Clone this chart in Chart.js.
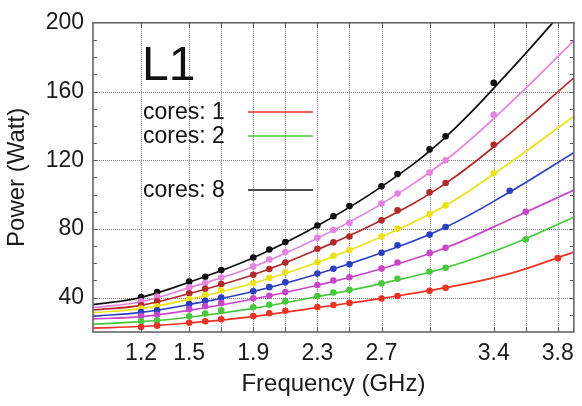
<!DOCTYPE html>
<html>
<head>
<meta charset="utf-8">
<title>L1 power vs frequency</title>
<script src="https://cdn.jsdelivr.net/npm/chart.js@4.4.0/dist/chart.umd.min.js"></script>
<style>
  html, body { margin: 0; padding: 0; background: #fff; }
  #wrap { width: 582px; height: 406px; position: relative; }
</style>
</head>
<body>
<div id="wrap"><canvas id="powerChart"></canvas></div>
<script>
// measured frequencies (GHz) shared by every core count, plus the last, higher one
const pointFreqs = [1.2, 1.3, 1.5, 1.6, 1.7, 1.9, 2.0, 2.1, 2.3, 2.4, 2.5, 2.7, 2.8, 3.0, 3.1];
const lastFreqs  = [3.8, 3.6, 3.6, 3.5, 3.4, 3.4, 3.4, 3.4];

// measured power (Watt), one list per core count
const cores1Power = [22.9, 23.7, 25.4, 26.3, 27.4, 29.3, 30.9, 32.4, 34.5, 35.7, 36.9, 39.5, 41.0, 44.0, 45.7, 63.0];
const cores2Power = [26.2, 26.7, 29.1, 30.7, 32.6, 34.4, 35.9, 37.8, 40.9, 43.0, 44.6, 48.3, 51.0, 55.2, 57.4, 73.9];
const cores3Power = [29.3, 30.0, 33.2, 35.0, 36.8, 39.6, 41.1, 43.3, 47.4, 50.0, 51.9, 56.9, 60.5, 65.9, 69.0, 90.0];
const cores4Power = [31.6, 32.6, 36.2, 38.2, 40.0, 43.7, 46.1, 48.9, 54.0, 56.8, 59.4, 66.1, 70.5, 76.7, 81.1, 102.2];
const cores5Power = [33.7, 35.0, 39.1, 41.5, 44.3, 48.5, 51.5, 54.8, 60.6, 64.3, 67.6, 75.6, 80.2, 88.7, 93.7, 112.4];
const cores6Power = [35.6, 37.8, 42.6, 45.2, 47.9, 53.3, 56.7, 60.4, 68.5, 72.2, 75.6, 85.0, 90.8, 101.3, 106.7, 129.0];
const cores7Power = [37.8, 40.6, 46.0, 48.5, 51.7, 58.2, 62.2, 66.5, 74.9, 79.4, 83.5, 94.8, 100.6, 112.8, 120.0, 146.5];
const cores8Power = [40.4, 43.3, 49.3, 52.2, 56.1, 63.4, 68.0, 72.4, 82.0, 87.4, 93.3, 104.8, 112.0, 126.3, 133.9, 165.0];

// fitted curves at these frequencies
const fitFreqs = [0.9, 1.2, 1.5, 1.9, 2.3, 2.7, 3.1, 3.5, 3.9];
const cores1Fit = [22.3, 23.2, 25.3, 29.0, 34.2, 39.6, 45.8, 54.0, 66.5];
const cores2Fit = [24.6, 26.0, 28.6, 33.8, 40.6, 48.2, 57.4, 70.5, 86.8];
const cores3Fit = [27.6, 29.0, 32.6, 39.2, 47.2, 56.8, 69.0, 85.5, 102.6];
const cores4Fit = [29.2, 31.4, 36.0, 43.6, 53.8, 66.1, 81.0, 101.5, 124.4];
const cores5Fit = [31.2, 33.6, 39.0, 48.4, 60.5, 75.4, 93.6, 118.5, 145.6];
const cores6Fit = [32.8, 35.5, 42.4, 53.3, 68.0, 85.0, 106.5, 135.5, 168.0];
const cores7Fit = [34.2, 37.6, 45.8, 58.0, 74.6, 94.6, 120.0, 153.0, 189.6];
const cores8Fit = [35.9, 40.2, 49.0, 63.2, 81.8, 104.6, 133.5, 172.0, 214.0];

// axis ticks
const gridFreqs  = [1.2, 1.5, 1.7, 1.9, 2.1, 2.3, 2.5, 2.7, 3.0, 3.4, 3.6, 3.8];
const labelFreqs = [1.2, 1.5, 1.9, 2.3, 2.7, 3.4, 3.8];
const powerTicks = [40, 80, 120, 160, 200];

const coreCounts = [1, 2, 3, 4, 5, 6, 7, 8];
const powerLists = [cores1Power, cores2Power, cores3Power, cores4Power, cores5Power, cores6Power, cores7Power, cores8Power];
const fitLists   = [cores1Fit, cores2Fit, cores3Fit, cores4Fit, cores5Fit, cores6Fit, cores7Fit, cores8Fit];

const seriesColors = ['#ea3323', '#48c83c', '#c846c8', '#2b3fc4', '#ece21c', '#b32a2a', '#e482e0', '#101010'];

Chart.defaults.font.family = '"Liberation Sans", Arial, Helvetica, sans-serif';
Chart.defaults.color = '#1a1a1a';

const datasets = [];
coreCounts.forEach(function(n, i) {
    const freqs = pointFreqs.concat([lastFreqs[i]]);
    datasets.push({
        type: 'scatter',
        label: 'cores: ' + n + ' measured',
        data: powerLists[i].map(function(v, k) { return { x: freqs[k], y: v }; }),
        backgroundColor: seriesColors[i],
        borderColor: seriesColors[i],
        pointRadius: 3.3,
        pointBorderWidth: 0,
        order: 0
    });
    datasets.push({
        type: 'line',
        label: 'cores: ' + n,
        data: fitFreqs.map(function(f, k) { return { x: f, y: fitLists[i][k] }; }),
        borderColor: seriesColors[i],
        borderWidth: 1.7,
        pointRadius: 0,
        fill: false,
        tension: 0.4,
        order: 1
    });
});

// legend rows shown in the plot: [core count index, row y]
const legendRows = [[0, 112], [1, 136], [7, 190]];

// dotted grid, box around the plot, inward minor ticks, "L1" and the little legend
const framePlugin = {
    id: 'frame',
    beforeDatasetsDraw(chart) {
        const { ctx, chartArea: a, scales: { x, y } } = chart;
        ctx.save();
        ctx.strokeStyle = '#808080';
        ctx.lineWidth = 1;
        ctx.setLineDash([1, 1]);
        gridFreqs.forEach(function(f) {
            const px = Math.round(x.getPixelForValue(f)) + 0.5;
            ctx.beginPath();
            ctx.moveTo(px, a.top); ctx.lineTo(px, a.bottom);
            ctx.stroke();
        });
        powerTicks.forEach(function(v) {
            if (v >= 200) return;
            const py = Math.round(y.getPixelForValue(v)) + 0.5;
            ctx.beginPath();
            ctx.moveTo(a.left, py); ctx.lineTo(a.right, py);
            ctx.stroke();
        });
        ctx.restore();
    },
    afterDatasetsDraw(chart) {
        const { ctx, chartArea: a, scales: { x, y } } = chart;
        ctx.save();
        ctx.strokeStyle = '#5a5a5a';
        ctx.lineWidth = 1;
        for (let v = 30; v < 200; v += 10) {
            const py = Math.round(y.getPixelForValue(v)) + 0.5;
            ctx.beginPath();
            ctx.moveTo(a.left, py); ctx.lineTo(a.left + 4, py);
            ctx.moveTo(a.right, py); ctx.lineTo(a.right - 4, py);
            ctx.stroke();
        }
        gridFreqs.forEach(function(f) {
            const px = Math.round(x.getPixelForValue(f)) + 0.5;
            ctx.beginPath();
            ctx.moveTo(px, a.bottom); ctx.lineTo(px, a.bottom - 5);
            ctx.moveTo(px, a.top); ctx.lineTo(px, a.top + 5);
            ctx.stroke();
        });
        ctx.lineWidth = 1.6;
        ctx.strokeStyle = '#666';
        ctx.strokeRect(a.left, a.top, a.right - a.left, a.bottom - a.top);

        ctx.fillStyle = '#111';
        ctx.textBaseline = 'alphabetic';
        ctx.textAlign = 'left';
        ctx.font = '48px "Liberation Sans", Arial, sans-serif';
        ctx.fillText('L1', 142, 80);

        ctx.font = '23px "Liberation Sans", Arial, sans-serif';
        ctx.textBaseline = 'middle';
        legendRows.forEach(function(row) {
            const i = row[0], ry = row[1];
            ctx.fillStyle = '#111';
            ctx.fillText('cores: ' + coreCounts[i], 143, ry + 1);
            ctx.strokeStyle = seriesColors[i];
            ctx.lineWidth = 1.6;
            ctx.beginPath();
            ctx.moveTo(248, ry); ctx.lineTo(313, ry);
            ctx.stroke();
        });
        ctx.restore();
    }
};

new Chart(document.getElementById('powerChart'), {
    type: 'scatter',
    data: { datasets: datasets },
    options: {
        responsive: true,
        maintainAspectRatio: false,
        animation: false,
        layout: { padding: { top: 8, right: 6, left: 0, bottom: 0 } },
        plugins: {
            legend: { display: false },
            tooltip: { enabled: false }
        },
        scales: {
            x: {
                type: 'linear',
                min: 0.9,
                max: 3.9,
                afterBuildTicks: function(scale) {
                    scale.ticks = gridFreqs.map(function(v) { return { value: v }; });
                },
                afterFit: function(scale) { scale.height = 74; },
                ticks: {
                    autoSkip: false,
                    maxRotation: 0,
                    padding: 8,
                    font: { size: 23 },
                    color: '#1a1a1a',
                    callback: function(value) {
                        const v = Math.round(value * 10) / 10;
                        return labelFreqs.includes(v) ? v.toFixed(1) : '';
                    }
                },
                grid: { display: false, drawTicks: false },
                border: { display: false },
                title: {
                    display: true,
                    text: 'Frequency (GHz)',
                    font: { size: 24 },
                    color: '#1a1a1a',
                    padding: { top: 0, bottom: 7 }
                }
            },
            y: {
                min: 20,
                max: 200,
                afterBuildTicks: function(scale) {
                    scale.ticks = powerTicks.map(function(v) { return { value: v }; });
                },
                afterFit: function(scale) { scale.width = 93; },
                ticks: {
                    padding: 9,
                    font: { size: 23 },
                    color: '#1a1a1a'
                },
                grid: { display: false, drawTicks: false },
                border: { display: false },
                title: {
                    display: true,
                    text: 'Power (Watt)',
                    font: { size: 24 },
                    color: '#1a1a1a',
                    padding: { top: 3, bottom: 0 }
                }
            }
        }
    },
    plugins: [framePlugin]
});
</script>
</body>
</html>
